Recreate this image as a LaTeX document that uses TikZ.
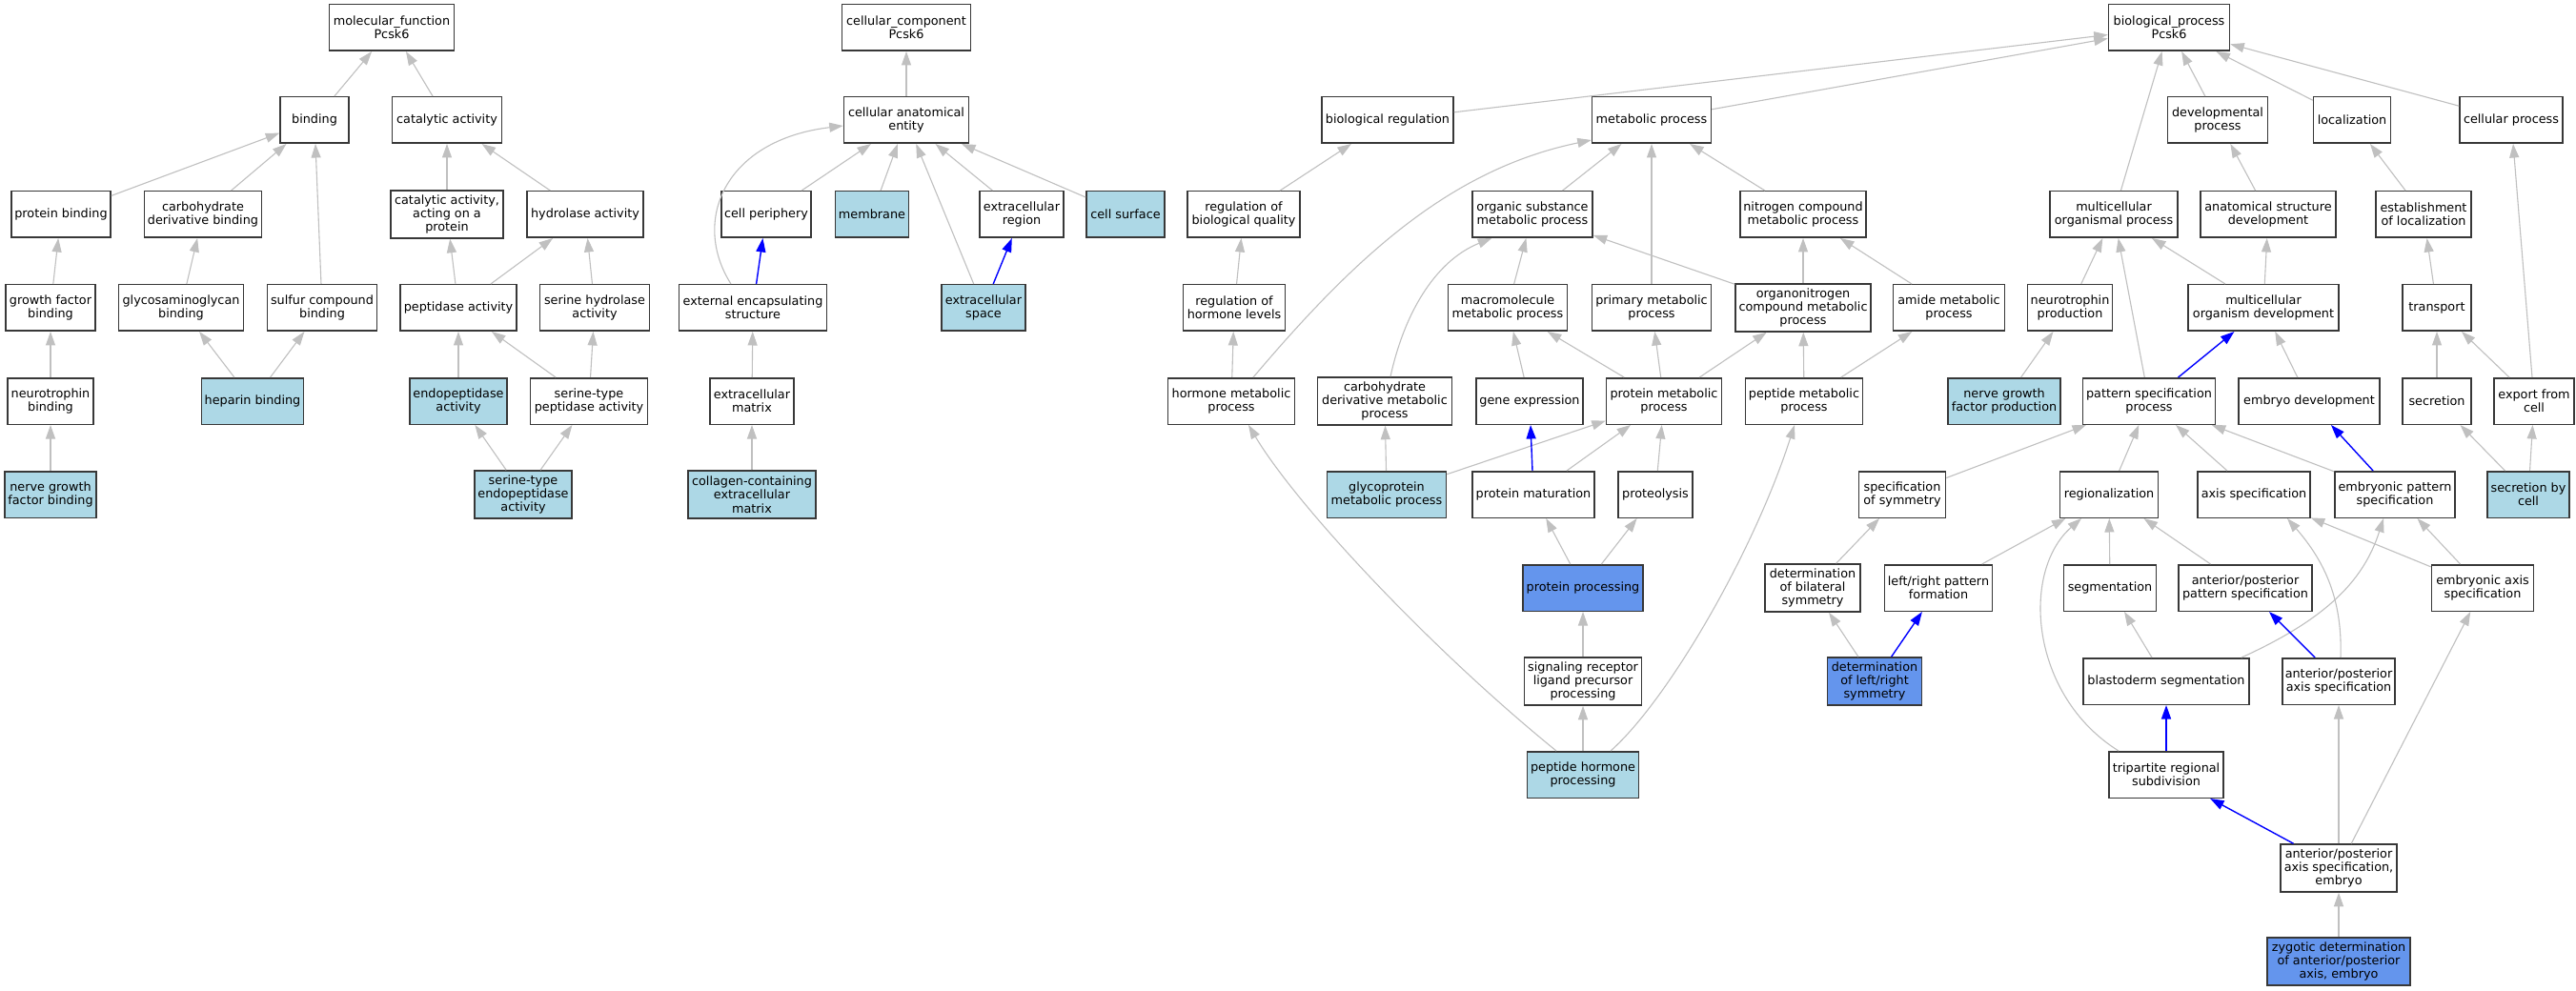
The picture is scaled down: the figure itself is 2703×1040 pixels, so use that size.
\documentclass[tikz,border=0pt]{standalone}
\usepackage{fontspec}
\setmainfont{DejaVu Sans}
\usetikzlibrary{arrows.meta}
\definecolor{lbcol}{HTML}{ADD8E6}
\definecolor{cbcol}{HTML}{6495ED}
\definecolor{egray}{HTML}{C0C0C0}
\newcommand\nfont{\fontsize{12.8}{14.4}\selectfont}
\newcommand\nd[6][box]{\node[#1,minimum width=#5pt] (#2) at (#3,-#4) {#6};}
\begin{document}
\begin{tikzpicture}[x=1pt,y=1pt,
  box/.style={draw=black!78,line width=1.5pt,fill=white,inner sep=0pt,align=center,font=\nfont,minimum height=48.5pt},
  boxt/.style={box,minimum height=50pt},
  lb/.style={box,fill=lbcol},
  lbt/.style={boxt,fill=lbcol},
  cb/.style={box,fill=cbcol},
  cbt/.style={boxt,fill=cbcol},
  e/.style={draw=egray,line width=1.1pt,-{Triangle[length=14.5pt,width=10pt]}},
  be/.style={draw=blue,line width=1.4pt,-{Triangle[length=14.5pt,width=10pt]}}]
\useasboundingbox (0,0) rectangle (2703,-1040);
\fill[white] (0,0) rectangle (2703,-1040);
% ---------------- molecular function
\nd{mf}{411}{29}{131}{molecular\_function\\Pcsk6}
\nd{bind}{330}{126}{72}{binding}
\nd{cat}{469}{126}{115}{catalytic activity}
\nd{pb}{64}{225}{104}{protein binding}
\nd{cdb}{213}{225}{123}{carbohydrate\\derivative binding}
\nd[boxt]{caap}{469}{225}{118}{catalytic activity,\\acting on a\\protein}
\nd{hyd}{614}{225}{122}{hydrolase activity}
\nd{gfb}{53}{323}{94}{growth factor\\binding}
\nd{gag}{190}{323}{131}{glycosaminoglycan\\binding}
\nd{scb}{338}{323}{115}{sulfur compound\\binding}
\nd{pep}{481}{323}{122}{peptidase activity}
\nd{shy}{624}{323}{115}{serine hydrolase\\activity}
\nd{ntb}{53}{421}{90}{neurotrophin\\binding}
\nd[lb]{hep}{265}{421}{107}{heparin binding}
\nd[lb]{endo}{481}{421}{102}{endopeptidase\\activity}
\nd{stp}{618}{421}{123}{serine-type\\peptidase activity}
\nd[lb]{ngfb}{53}{519}{96}{nerve growth\\factor binding}
\nd[lbt]{ste}{549}{519}{102}{serine-type\\endopeptidase\\activity}
% ---------------- cellular component
\nd{cc}{951}{29}{135}{cellular\_component\\Pcsk6}
\nd{cae}{951}{126}{131}{cellular anatomical\\entity}
\nd{cp}{804}{225}{94}{cell periphery}
\nd[lb]{mem}{915}{225}{77}{membrane}
\nd{ecr}{1072}{225}{88}{extracellular\\region}
\nd[lb]{cs}{1181}{225}{82}{cell surface}
\nd{ees}{790}{323}{155}{external encapsulating\\structure}
\nd[lb]{ecs}{1032}{323}{88}{extracellular\\space}
\nd{ecm}{789}{421}{88}{extracellular\\matrix}
\nd[lbt]{col}{789}{519}{134}{collagen-containing\\extracellular\\matrix}
% ---------------- biological process
\nd{bp}{2276}{29}{127}{biological\_process\\Pcsk6}
\nd{br}{1456}{126}{138}{biological regulation}
\nd{mp}{1733}{126}{125}{metabolic process}
\nd{dp}{2327}{126}{105}{developmental\\process}
\nd{loc}{2468}{126}{81}{localization}
\nd{cpr}{2635}{126}{108}{cellular process}
\nd{rbq}{1305}{225}{118}{regulation of\\biological quality}
\nd{osmp}{1608}{225}{126}{organic substance\\metabolic process}
\nd{ncmp}{1892}{225}{132}{nitrogen compound\\metabolic process}
\nd{mop}{2218}{225}{134}{multicellular\\organismal process}
\nd{asd}{2380}{225}{142}{anatomical structure\\development}
\nd{eol}{2543}{225}{100}{establishment\\of localization}
\nd{rhl}{1295}{323}{107}{regulation of\\hormone levels}
\nd{mmp}{1582}{323}{125}{macromolecule\\metabolic process}
\nd{pmp}{1733}{323}{125}{primary metabolic\\process}
\nd[boxt]{ocmp}{1892}{323}{142}{organonitrogen\\compound metabolic\\process}
\nd{amp}{2045}{323}{117}{amide metabolic\\process}
\nd{np}{2172}{323}{89}{neurotrophin\\production}
\nd{mod}{2375}{323}{158}{multicellular\\organism development}
\nd{tr}{2557}{323}{72}{transport}
\nd{hmp}{1292}{421}{133}{hormone metabolic\\process}
\nd[boxt]{cdmp}{1453}{421}{141}{carbohydrate\\derivative metabolic\\process}
\nd{ge}{1605}{421}{112}{gene expression}
\nd{prmp}{1746}{421}{121}{protein metabolic\\process}
\nd{pepmp}{1893}{421}{123}{peptide metabolic\\process}
\nd[lb]{ngfp}{2103}{421}{118}{nerve growth\\factor production}
\nd{psp}{2255}{421}{139}{pattern specification\\process}
\nd{ed}{2423}{421}{148}{embryo development}
\nd{sec}{2557}{421}{72}{secretion}
\nd{efc}{2659}{421}{84}{export from\\cell}
\nd[lb]{gmp}{1455}{519}{125}{glycoprotein\\metabolic process}
\nd{pmat}{1609}{519}{128}{protein maturation}
\nd{prot}{1737}{519}{78}{proteolysis}
\nd{sos}{1996}{519}{91}{specification\\of symmetry}
\nd{reg}{2213}{519}{103}{regionalization}
\nd{axs}{2365}{519}{118}{axis specification}
\nd{eps}{2513}{519}{126}{embryonic pattern\\specification}
\nd[lb]{sbc}{2653}{519}{86}{secretion by\\cell}
\nd[cb]{pproc}{1661}{617}{126}{protein processing}
\nd[boxt]{dbs}{1902}{617}{100}{determination\\of bilateral\\symmetry}
\nd{lrpf}{2034}{617}{113}{left/right pattern\\formation}
\nd{seg}{2214}{617}{97}{segmentation}
\nd{apps}{2356}{617}{140}{anterior/posterior\\pattern specification}
\nd{eas}{2605}{617}{107}{embryonic axis\\specification}
\nd[boxt]{srl}{1661}{715}{123}{signaling receptor\\ligand precursor\\processing}
\nd[cbt]{dlrs}{1967}{715}{99}{determination\\of left/right\\symmetry}
\nd{bs}{2273}{715}{174}{blastoderm segmentation}
\nd{apas}{2454}{715}{118}{anterior/posterior\\axis specification}
\nd[lb]{phr}{1661}{813}{117}{peptide hormone\\processing}
\nd{trs}{2273}{813}{120}{tripartite regional\\subdivision}
\nd[boxt]{apase}{2454}{911}{122}{anterior/posterior\\axis specification,\\embryo}
\nd[cbt]{zyg}{2454}{1009}{150}{zygotic determination\\of anterior/posterior\\axis, embryo}
% ---------------- edges: molecular function
\draw[e] (bind) -- (mf);
\draw[e] (cat) -- (mf);
\draw[e] (pb) -- (bind);
\draw[e] (cdb) -- (bind);
\draw[e] (scb) -- (bind);
\draw[e] (caap) -- (cat);
\draw[e] (hyd) -- (cat);
\draw[e] (gfb) -- (pb);
\draw[e] (gag) -- (cdb);
\draw[e] (pep) -- (caap);
\draw[e] (pep) -- (hyd);
\draw[e] (shy) -- (hyd);
\draw[e] (ntb) -- (gfb);
\draw[e] (hep) -- (gag);
\draw[e] (hep) -- (scb);
\draw[e] (endo) -- (pep);
\draw[e] (stp) -- (pep);
\draw[e] (stp) -- (shy);
\draw[e] (ngfb) -- (ntb);
\draw[e] (ste) -- (endo);
\draw[e] (ste) -- (stp);
% ---------------- edges: cellular component
\draw[e] (cae) -- (cc);
\draw[e] (cp) -- (cae);
\draw[e] (mem) -- (cae);
\draw[e] (ecr) -- (cae);
\draw[e] (cs) -- (cae);
\draw[e] ([xshift=-23pt]ees.north) .. controls (725,-232) and (760,-147) .. ([yshift=-6pt]cae.west);
\draw[e] (ecs) -- (cae);
\draw[be] (ees) -- (cp);
\draw[be] (ecs) -- (ecr);
\draw[e] (ecm) -- (ees);
\draw[e] (col) -- (ecm);
% ---------------- edges: biological process
\draw[e] (br) -- (bp);
\draw[e] (mp) -- (bp);
\draw[e] (mop) -- (bp);
\draw[e] (dp) -- (bp);
\draw[e] (loc) -- (bp);
\draw[e] (cpr) -- (bp);
\draw[e] (rbq) -- (br);
\draw[e] (osmp) -- (mp);
\draw[e] (ncmp) -- (mp);
\draw[e] (pmp) -- (mp);
\draw[e] ([xshift=23pt]hmp.north) .. controls (1420,-272) and (1520,-178) .. ([yshift=4pt]mp.south west);
\draw[e] (asd) -- (dp);
\draw[e] (eol) -- (loc);
\draw[e] (efc) -- (cpr);
\draw[e] (rhl) -- (rbq);
\draw[e] (mmp) -- (osmp);
\draw[e] (ocmp) -- (osmp);
\draw[e] (ocmp) -- (ncmp);
\draw[e] (amp) -- (ncmp);
\draw[e] ([xshift=6pt]cdmp.north) .. controls (1475,-322) and (1510,-272) .. ([xshift=21pt]osmp.south west);
\draw[e] (np) -- (mop);
\draw[e] (mod) -- (mop);
\draw[e] (mod) -- (asd);
\draw[e] (psp) -- (mop);
\draw[e] (tr) -- (eol);
\draw[e] (hmp) -- (rhl);
\draw[e] (ge) -- (mmp);
\draw[e] (prmp) -- (mmp);
\draw[e] (prmp) -- (pmp);
\draw[e] (prmp) -- (ocmp);
\draw[e] (pepmp) -- (ocmp);
\draw[e] (pepmp) -- (amp);
\draw[e] (ngfp) -- (np);
\draw[be] (psp) -- (mod);
\draw[e] (ed) -- (mod);
\draw[e] (sec) -- (tr);
\draw[e] (efc) -- (tr);
\draw[e] (gmp) -- (cdmp);
\draw[e] (gmp) -- (prmp);
\draw[be] (pmat) -- (ge);
\draw[e] (pmat) -- (prmp);
\draw[e] (prot) -- (prmp);
\draw[e] (sos) -- (psp);
\draw[e] (reg) -- (psp);
\draw[e] (axs) -- (psp);
\draw[e] (eps) -- (psp);
\draw[be] (eps) -- (ed);
\draw[e] (sbc) -- (sec);
\draw[e] (sbc) -- (efc);
\draw[e] (pproc) -- (pmat);
\draw[e] (pproc) -- (prot);
\draw[e] (dbs) -- (sos);
\draw[e] (lrpf) -- (reg);
\draw[e] (seg) -- (reg);
\draw[e] (apps) -- (reg);
\draw[e] (eas) -- (axs);
\draw[e] (eas) -- (eps);
\draw[e] (srl) -- (pproc);
\draw[e] (dlrs) -- (dbs);
\draw[be] (dlrs) -- (lrpf);
\draw[e] (bs) -- (seg);
\draw[e] ([xshift=79pt]bs.north) .. controls (2440,-650) and (2480,-610) .. ([xshift=-12pt]eps.south);
\draw[be] (apas) -- (apps);
\draw[e] ([xshift=2pt]apas.north) .. controls (2458,-630) and (2440,-590) .. ([xshift=35pt]axs.south);
\draw[e] (phr) -- (srl);
\draw[e] ([xshift=-28pt]phr.north) .. controls (1500,-680) and (1360,-530) .. ([xshift=18pt]hmp.south);
\draw[e] ([xshift=29pt]phr.north) .. controls (1750,-735) and (1840,-580) .. ([xshift=-10pt]pepmp.south);
\draw[be] (trs) -- (bs);
\draw[e] ([xshift=-50pt]trs.north) .. controls (2130,-730) and (2120,-600) .. ([xshift=-29pt]reg.south);
\draw[be] (apase) -- (trs);
\draw[e] (apase) -- (apas);
\draw[e] (apase) -- (eas);
\draw[e] (zyg) -- (apase);
\end{tikzpicture}
\end{document}
